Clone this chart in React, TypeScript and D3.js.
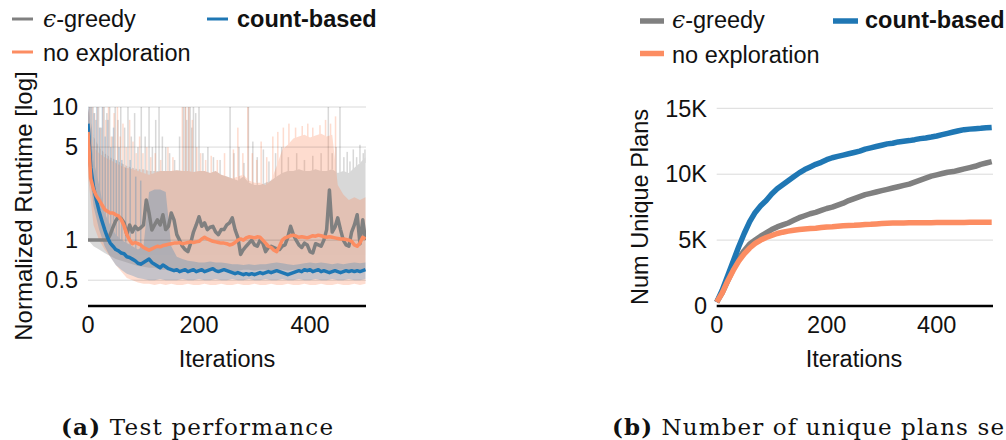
import React from 'react';
import * as d3 from 'd3';

// ---------- Data ----------
// Left: normalized runtime (log), sampled every 5 iterations (0..500)
const LINE_STEP = 5;
const GREEDY_RT = [
  1, 1, 1, 1, 1, 1, 1, 1, 1.1, 1.25,
  1.4, 1.5, 1.45, 1.35, 1.1, 1.3, 1.15, 1.27, 1.2, 1.24,
  1.3, 2.0, 1.6, 1.19, 1.3, 1.42, 1.3, 1.55, 1.2, 1.27,
  1.6, 1.42, 1.1, 1.0, 0.9, 0.85, 0.82, 0.95, 1.15, 1.3,
  1.5, 1.27, 1.35, 1.2, 1.25, 1.27, 1.15, 1.1, 1.2, 1.2,
  1.3, 1.35, 1.47, 1.2, 1.05, 0.78, 0.85, 0.9, 0.95, 1.0,
  0.92, 0.9, 1.0, 0.95, 0.82, 0.88, 0.9, 0.88, 0.86, 0.85,
  0.9, 0.92, 1.05, 1.27, 1.1, 1.0, 0.92, 0.88, 0.95, 0.92,
  0.82, 0.8, 0.94, 0.92, 0.9, 1.0, 1.2, 2.38, 1.15, 1.25,
  1.47, 1.2, 1.0, 0.92, 0.9, 1.15, 1.3, 1.55, 0.94, 1.42,
  1.0,
];
const COUNT_RT = [
  7.5, 3.5, 2.5, 2.0, 1.65, 1.4, 1.2, 1.05, 0.95, 0.9,
  0.85, 0.83, 0.8, 0.79, 0.75, 0.74, 0.72, 0.7, 0.67, 0.66,
  0.68, 0.7, 0.72, 0.68, 0.66, 0.64, 0.62, 0.65, 0.63, 0.61,
  0.6, 0.59, 0.6, 0.58, 0.59, 0.6, 0.58, 0.59, 0.6, 0.58,
  0.59, 0.6, 0.58, 0.59, 0.6, 0.61, 0.59, 0.58, 0.59, 0.6,
  0.59, 0.58, 0.57, 0.56, 0.57, 0.56, 0.55, 0.56, 0.55, 0.56,
  0.55, 0.56, 0.57, 0.56, 0.57, 0.58, 0.57, 0.58, 0.59, 0.58,
  0.57, 0.56, 0.55, 0.56, 0.57, 0.58, 0.59, 0.58, 0.6, 0.59,
  0.6, 0.58, 0.59, 0.6, 0.58, 0.59, 0.58, 0.57, 0.58, 0.59,
  0.58, 0.57, 0.58, 0.59, 0.58, 0.59, 0.58, 0.59, 0.58, 0.59,
  0.6,
];
const NOEXP_RT = [
  6.5, 2.9, 2.4, 2.15, 2.0, 1.85, 1.7, 1.65, 1.6, 1.6,
  1.55, 1.52, 1.42, 1.28, 1.1, 1.0, 0.94, 0.96, 0.94, 0.92,
  0.88, 0.86, 0.84, 0.86, 0.88, 0.9, 0.89, 0.91, 0.92, 0.93,
  0.94, 0.95, 0.95, 0.96, 0.94, 0.95, 0.96, 0.97, 0.96, 0.97,
  0.98, 1.02, 1.05, 1.02, 1.0, 0.98, 0.97, 0.96, 0.95, 0.95,
  0.94, 0.92, 0.93, 0.96, 1.0, 1.02, 1.0, 1.04, 1.06, 1.05,
  1.04, 1.06, 1.05, 1.0, 0.95, 0.9, 0.88, 0.84, 0.82, 0.9,
  1.0, 1.04, 1.06, 1.08, 1.09, 1.07, 1.05, 1.06, 1.05, 1.04,
  1.06, 1.08, 1.07, 1.09, 1.08, 1.06, 1.05, 1.06, 1.05, 1.04,
  1.03, 1.02, 1.02, 1.01, 1.0, 0.98, 0.92, 0.9, 0.95, 1.05,
  1.02,
];

// Bands (spread), sampled every 10 iterations (0..500)
const BAND_STEP = 10;
const GREEDY_HI = [
  10, 6, 5, 4.5, 4.2, 4.0, 3.8, 3.6, 3.5, 3.4,
  3.4, 3.3, 3.3, 3.3, 3.3, 3.3, 3.35, 3.3, 3.3, 3.25,
  3.3, 3.3, 3.2, 3.3, 3.1, 3.0, 2.9, 2.8, 3.0, 2.7,
  2.6, 2.6, 2.7, 2.8, 3.0, 3.2, 3.3, 3.3, 3.4, 3.3,
  3.3, 3.4, 3.3, 3.3, 3.4, 3.2, 3.3, 3.2, 3.5, 3.8,
  4.2,
];
const GREEDY_LO = [
  1.0, 0.9, 0.85, 0.8, 0.76, 0.72, 0.7, 0.68, 0.66, 0.64,
  0.63, 0.62, 0.62, 0.6, 0.6, 0.6, 0.59, 0.6, 0.6, 0.59,
  0.6, 0.6, 0.59, 0.6, 0.6, 0.59, 0.58, 0.59, 0.6, 0.6,
  0.59, 0.6, 0.6, 0.59, 0.6, 0.6, 0.59, 0.6, 0.6, 0.6,
  0.59, 0.6, 0.6, 0.6, 0.59, 0.6, 0.6, 0.59, 0.6, 0.6,
  0.6,
];
const NOEXP_HI = [
  10, 5, 4.5, 4.2, 4.0, 3.8, 3.6, 3.5, 3.4, 3.3,
  3.2, 3.1, 3.2, 3.3, 3.3, 3.3, 3.35, 3.3, 3.3, 3.25,
  3.3, 3.3, 3.2, 3.3, 3.1, 3.0, 2.9, 3.0, 3.1, 2.8,
  2.7, 2.7, 2.6, 2.8, 3.6, 4.8, 5.2, 5.8, 6.0, 6.2,
  5.9, 6.1, 6.3, 6.0, 6.2, 2.6, 2.2, 2.0, 2.1, 2.0,
  2.1,
];
const NOEXP_LO = [
  3.0, 1.3, 1.0, 0.85, 0.75, 0.65, 0.58, 0.52, 0.5, 0.48,
  0.47, 0.47, 0.46, 0.47, 0.46, 0.47, 0.46, 0.46, 0.47, 0.46,
  0.46, 0.47, 0.46, 0.46, 0.47, 0.46, 0.46, 0.47, 0.46, 0.46,
  0.47, 0.46, 0.46, 0.47, 0.46, 0.46, 0.47, 0.46, 0.46, 0.47,
  0.46, 0.46, 0.47, 0.46, 0.46, 0.47, 0.46, 0.46, 0.47, 0.46,
  0.47,
];
const COUNT_HI = [
  10, 4.0, 2.6, 1.6, 1.3, 1.1, 1.0, 0.95, 0.9, 0.85,
  0.9, 2.3, 2.4, 2.4, 2.3, 0.9, 0.75, 0.72, 0.7, 0.69,
  0.68, 0.68, 0.69, 0.68, 0.68, 0.67, 0.66, 0.66, 0.65, 0.66,
  0.65, 0.66, 0.66, 0.67, 0.68, 0.67, 0.66, 0.65, 0.66, 0.67,
  0.68, 0.67, 0.68, 0.67, 0.66, 0.67, 0.66, 0.67, 0.68, 0.67,
  0.68,
];
const COUNT_LO = [
  4.0, 1.8, 1.2, 0.9, 0.75, 0.65, 0.6, 0.56, 0.54, 0.52,
  0.51, 0.5, 0.5, 0.51, 0.5, 0.5, 0.5, 0.51, 0.5, 0.5,
  0.51, 0.5, 0.5, 0.51, 0.5, 0.5, 0.51, 0.5, 0.5, 0.51,
  0.5, 0.5, 0.51, 0.5, 0.5, 0.51, 0.5, 0.5, 0.51, 0.5,
  0.5, 0.51, 0.5, 0.5, 0.51, 0.5, 0.5, 0.51, 0.5, 0.5,
  0.51,
];
// Thin excursions of the spread: [iteration, top value]
const GREEDY_SPIKES = [
  [4, 10], [9, 10], [14, 8], [19, 10], [24, 7], [29, 10], [34, 9], [39, 10], [44, 6], [49, 10],
  [54, 8], [59, 10], [66, 7], [72, 10], [78, 6], [84, 9], [90, 5], [96, 10], [103, 6], [110, 10],
  [116, 5], [122, 8], [128, 10], [134, 6], [140, 5], [147, 4.5], [156, 4], [165, 6], [172, 10], [175, 10],
  [178, 8], [181, 10], [184, 10], [187, 7], [190, 10], [194, 9], [200, 10], [207, 4.5], [216, 5], [226, 4.2],
  [238, 4], [256, 10], [263, 4.5], [272, 5], [281, 3.8], [289, 10], [297, 5.5], [305, 4.2], [316, 4.8], [326, 3.9],
  [338, 4.5], [349, 5], [361, 4.2], [376, 4.5], [390, 4], [405, 4.3], [420, 4.5], [433, 10], [440, 4.5], [447, 5],
  [454, 10], [461, 4.2], [467, 4.6], [472, 3.9], [478, 4.8], [484, 4.2], [490, 5.2], [496, 4.5], [499, 4.8],
];
const NOEXP_SPIKES = [
  [3, 10], [7, 10], [12, 9], [17, 10], [22, 7], [27, 10], [32, 8], [37, 10], [42, 6], [47, 9],
  [53, 10], [58, 6], [63, 7.5], [69, 5], [75, 8], [81, 5.5], [87, 4.5], [93, 6], [99, 4.5], [106, 5],
  [113, 4.2], [121, 4.5], [131, 4], [144, 5], [153, 4.2], [170, 10], [176, 10], [182, 10], [188, 8], [196, 5],
  [203, 4.5], [212, 4], [222, 4.3], [233, 4], [246, 4.5], [262, 4.8], [270, 7], [279, 4.5], [288, 10], [296, 4.5],
  [304, 4], [312, 5.5], [322, 4.2], [333, 6], [342, 6.5], [352, 7], [362, 7.5], [374, 7], [386, 7.2], [396, 7.5],
  [405, 7], [418, 7.3], [428, 8], [437, 7.5], [446, 8.5],
];
const COUNT_SPIKES = [
  [2, 10], [6, 10], [11, 9], [16, 10], [21, 7], [26, 10], [31, 6], [36, 8], [41, 5], [46, 7],
  [51, 4], [56, 5], [61, 4], [68, 3.5], [76, 4], [86, 3], [95, 2.8],
];

// Right: number of unique plans, sampled every 10 iterations (0..500)
const PLAN_STEP = 10;
const GREEDY_PLANS = [
  300, 1000, 1900, 2800, 3600, 4200, 4700, 5000, 5300, 5550,
  5800, 6000, 6150, 6300, 6500, 6700, 6850, 7000, 7100, 7250,
  7400, 7500, 7650, 7800, 8000, 8150, 8300, 8450, 8550, 8650,
  8750, 8850, 8950, 9050, 9150, 9250, 9400, 9550, 9700, 9850,
  9950, 10050, 10150, 10200, 10300, 10400, 10500, 10600, 10750, 10850,
  10950,
];
const COUNT_PLANS = [
  300, 1200, 2300, 3400, 4500, 5500, 6400, 7100, 7600, 8000,
  8500, 8900, 9200, 9500, 9800, 10100, 10350, 10550, 10750, 10900,
  11100, 11250, 11350, 11450, 11550, 11650, 11750, 11900, 12000, 12100,
  12200, 12300, 12350, 12450, 12500, 12550, 12620, 12700, 12750, 12820,
  12900, 13000, 13100, 13200, 13300, 13380, 13420, 13450, 13480, 13520,
  13550,
];
const NOEXP_PLANS = [
  300, 1000, 1900, 2700, 3400, 3950, 4400, 4750, 5000, 5200,
  5350, 5500, 5600, 5680, 5750, 5800, 5850, 5880, 5900, 5950,
  6000, 6020, 6050, 6080, 6100, 6120, 6150, 6180, 6200, 6230,
  6260, 6280, 6290, 6300, 6300, 6310, 6310, 6320, 6320, 6320,
  6330, 6330, 6330, 6340, 6340, 6340, 6350, 6350, 6350, 6360,
  6360,
];

const LEFT_TICKS = [10, 5, 1, 0.5];
const LEFT_TICK_LABELS = ['10', '5', '1', '0.5'];
const X_TICKS = [0, 200, 400];
const RIGHT_TICKS = [0, 5000, 10000, 15000];
const RIGHT_TICK_LABELS = ['0', '5K', '10K', '15K'];

const C_GREEDY = '#808080';
const C_COUNT = '#1f77b4';
const C_NOEXP = '#fc8d62';

const SANS = "'Liberation Sans', Arial, Helvetica, sans-serif";
const SERIF = "'DejaVu Serif', 'Liberation Serif', serif";

export default function App() {
  const xL = d3.scaleLinear().domain([0, 500]).range([88, 365.5]);
  const yL = d3.scaleLog().domain([0.32, 10]).range([306, 107]);
  const xR = d3.scaleLinear().domain([0, 500]).range([716.7, 991.7]);
  const yR = d3.scaleLinear().domain([0, 15000]).range([306, 108.3]);

  const lineL = (vals: number[]) =>
    d3.line<number>().x((_, i) => xL(i * LINE_STEP)).y((d) => yL(d))(vals) || '';
  const areaL = (hi: number[], lo: number[]) =>
    d3
      .area<number>()
      .x((_, i) => xL(i * BAND_STEP))
      .y0((_, i) => yL(lo[i]))
      .y1((d) => yL(d))(hi) || '';
  const lineR = (vals: number[]) =>
    d3.line<number>().x((_, i) => xR(i * PLAN_STEP)).y((d) => yR(d))(vals) || '';

  const spikes = (list: number[][], hi: number[]) =>
    list.map(([it, top], k) => {
      const a = Math.floor(it / BAND_STEP);
      const b = Math.min(hi.length - 1, Math.ceil(it / BAND_STEP));
      const base = Math.min(hi[a], hi[b]);
      if (top <= base) return null;
      const y0 = yL(top);
      const y1 = yL(base);
      return <rect key={k} x={xL(it) - 0.75} width={1.5} y={y0} height={y1 - y0} />;
    });

  const band = (hi: number[], lo: number[], sp: number[][], color: string, op: number) => (
    <g opacity={op} fill={color}>
      <path d={areaL(hi, lo)} />
      {spikes(sp, hi)}
    </g>
  );

  const fs = 23.5;

  return (
    <svg
      width={1006}
      height={440}
      style={{ position: 'absolute', left: 0, top: 0, background: '#fff' }}
      fontFamily={SANS}
    >
      <defs>
        <clipPath id="clipL">
          <rect x={88} y={107} width={278} height={199} />
        </clipPath>
      </defs>

      {/* ---------- Left chart ---------- */}
      <g fontSize={fs} fill="#111">
        <line x1={12} x2={33} y1={19} y2={19} stroke={C_GREEDY} strokeWidth={3} />
        <text x={43} y={27}>
          <tspan fontFamily={SERIF} fontStyle="italic">ϵ</tspan>-greedy
        </text>
        <line x1={207} x2={228} y1={19} y2={19} stroke={C_COUNT} strokeWidth={3} />
        <text x={237} y={27} fontWeight="bold">count-based</text>
        <line x1={12} x2={33} y1={52} y2={52} stroke={C_NOEXP} strokeWidth={3} />
        <text x={43} y={61}>no exploration</text>
      </g>

      <g clipPath="url(#clipL)">
        {band(GREEDY_HI, GREEDY_LO, GREEDY_SPIKES, C_GREEDY, 0.3)}
        {band(NOEXP_HI, NOEXP_LO, NOEXP_SPIKES, C_NOEXP, 0.3)}
        {band(COUNT_HI, COUNT_LO, COUNT_SPIKES, C_COUNT, 0.25)}
      </g>
      {LEFT_TICKS.map((t) => (
        <line key={t} x1={88} x2={366} y1={yL(t)} y2={yL(t)} stroke="#000" strokeOpacity={0.15} strokeWidth={1} />
      ))}
      <g clipPath="url(#clipL)" fill="none" strokeWidth={3.5} strokeLinejoin="round">
        <path d={lineL(GREEDY_RT)} stroke={C_GREEDY} />
        <path d={lineL(COUNT_RT)} stroke={C_COUNT} />
        <path d={lineL(NOEXP_RT)} stroke={C_NOEXP} />
      </g>
      <line x1={88} x2={366} y1={306} y2={306} stroke="#000" strokeWidth={2.6} />
      <g fontSize={fs} fill="#111">
        {LEFT_TICKS.map((t, i) => (
          <text key={t} x={78} y={yL(t)} dy="0.35em" textAnchor="end">
            {LEFT_TICK_LABELS[i]}
          </text>
        ))}
        {X_TICKS.map((t) => (
          <text key={t} x={xL(t)} y={333} textAnchor="middle">
            {t}
          </text>
        ))}
        <text x={227} y={367} textAnchor="middle">Iterations</text>
        <text transform="translate(32,206) rotate(-90)" textAnchor="middle" fontSize={24}>
          Normalized Runtime [log]
        </text>
      </g>

      {/* ---------- Right chart ---------- */}
      <g fontSize={fs} fill="#111">
        <line x1={640} x2={664} y1={21} y2={21} stroke={C_GREEDY} strokeWidth={5.5} />
        <text x={672} y={28}>
          <tspan fontFamily={SERIF} fontStyle="italic">ϵ</tspan>-greedy
        </text>
        <line x1={833} x2={858} y1={21} y2={21} stroke={C_COUNT} strokeWidth={5.5} />
        <text x={865} y={28} fontWeight="bold">count-based</text>
        <line x1={640} x2={664} y1={53.5} y2={53.5} stroke={C_NOEXP} strokeWidth={5.5} />
        <text x={672} y={63}>no exploration</text>
      </g>
      {RIGHT_TICKS.slice(1).map((t) => (
        <line key={t} x1={716.7} x2={993} y1={yR(t)} y2={yR(t)} stroke="#000" strokeOpacity={0.15} strokeWidth={1} />
      ))}
      <g fill="none" strokeWidth={5.5} strokeLinejoin="round">
        <path d={lineR(GREEDY_PLANS)} stroke={C_GREEDY} />
        <path d={lineR(COUNT_PLANS)} stroke={C_COUNT} />
        <path d={lineR(NOEXP_PLANS)} stroke={C_NOEXP} />
      </g>
      <line x1={716.7} x2={993} y1={306} y2={306} stroke="#000" strokeWidth={2.6} />
      <g fontSize={fs} fill="#111">
        {RIGHT_TICKS.map((t, i) => (
          <text key={t} x={707} y={yR(t)} dy="0.35em" textAnchor="end">
            {RIGHT_TICK_LABELS[i]}
          </text>
        ))}
        {X_TICKS.map((t) => (
          <text key={t} x={xR(t)} y={333} textAnchor="middle">
            {t}
          </text>
        ))}
        <text x={854} y={367} textAnchor="middle">Iterations</text>
        <text transform="translate(648,207) rotate(-90)" textAnchor="middle">
          Num Unique Plans
        </text>
      </g>

      {/* ---------- Captions ---------- */}
      <g fontFamily={SERIF} fontSize={23} fill="#111">
        <text x={61} y={435} textLength={272} lengthAdjust="spacing">
          <tspan fontWeight="bold">(a)</tspan> Test performance
        </text>
        <text x={612} y={435} textLength={392} lengthAdjust="spacing">
          <tspan fontWeight="bold">(b)</tspan> Number of unique plans se
        </text>
      </g>
    </svg>
  );
}
